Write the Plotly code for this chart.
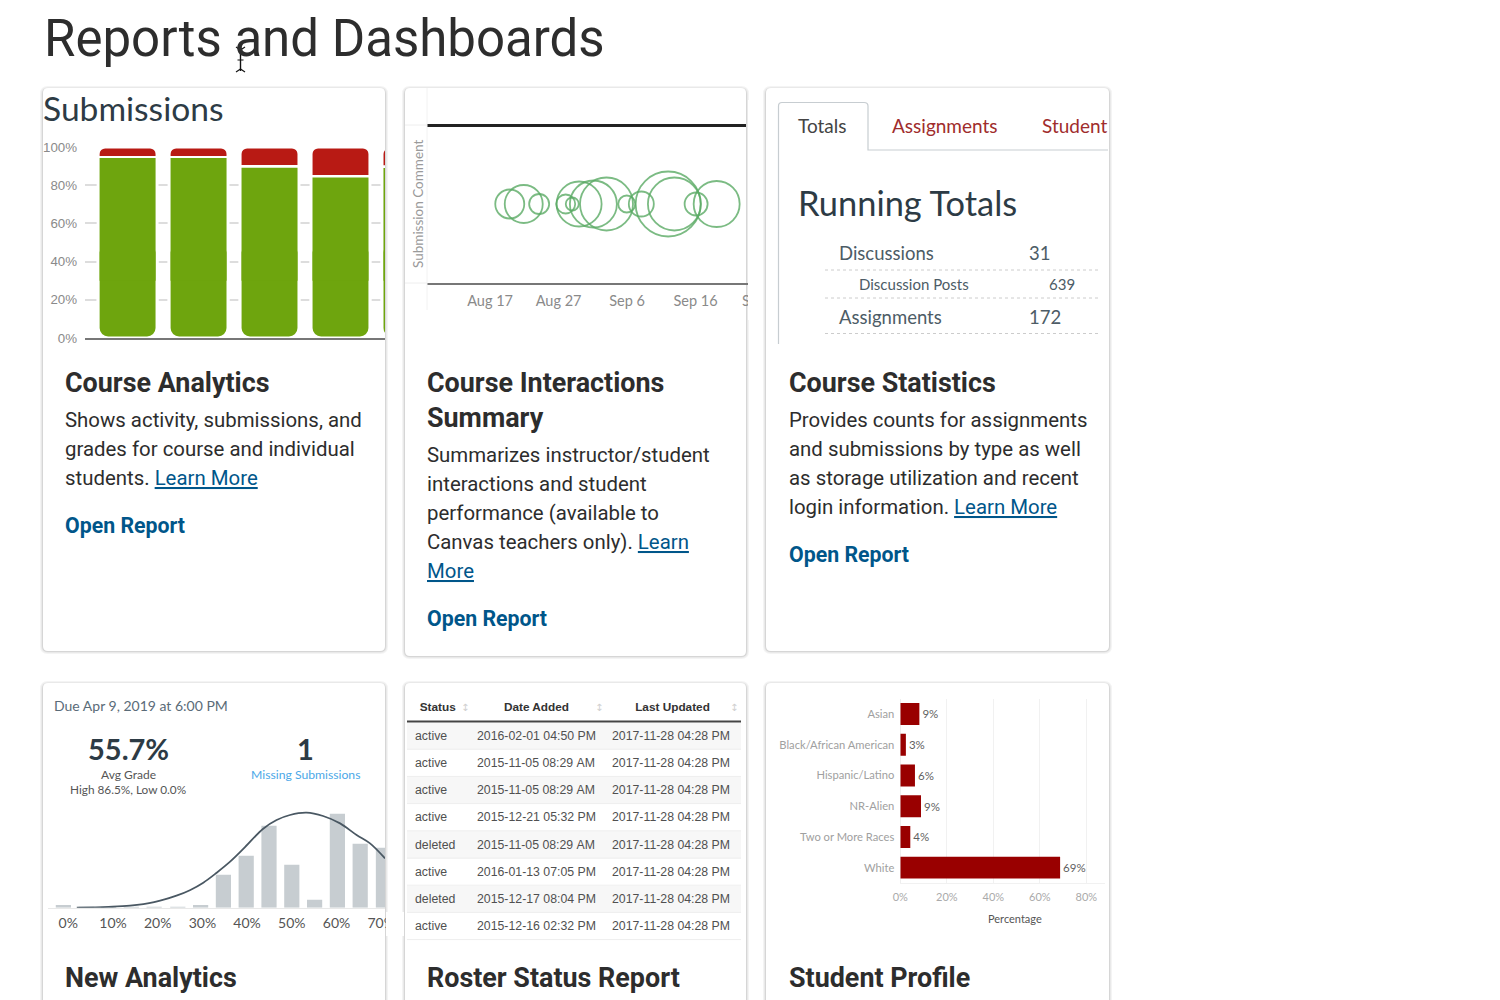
import plotly.graph_objects as go

# page is placed 8px in by the default body margin
W, H, OFF = 1492, 992, 8

HEAD_FONT = 'Roboto'
THUMB_FONT = 'Lato'
INK = '#2d2d2d'
LINK = '#00568a'
SLATE = '#2d3b45'

#%% data
sub_pos = [0, 1, 2, 3, 4]
sub_green_top = [94.2, 94.2, 89.2, 84, 89]
sub_red_start = [95.3, 95.3, 90.6, 85.3, 90.4]
sub_red_top = [100, 100, 100, 100, 100]
sub_ticks = [0, 20, 40, 60, 80, 100]

comment_dates = ['2018-08-19 21:00', '2018-08-21 22:00', '2018-08-24 04:00', '2018-08-28 01:00',
                 '2018-08-29 00:00', '2018-08-30 00:00', '2018-09-01 02:00', '2018-09-03 00:00',
                 '2018-09-05 23:00', '2018-09-08 02:00', '2018-09-12 00:00', '2018-09-12 22:00',
                 '2018-09-16 02:00', '2018-09-19 02:00']
comment_level = [0] * 14
comment_size = [29, 38, 20, 19, 13, 45, 47, 53, 17, 25, 65, 53, 23, 46]
comment_ticks = ['2018-08-17', '2018-08-27', '2018-09-06', '2018-09-16', '2018-09-26']
comment_ticktext = ['Aug 17', 'Aug 27', 'Sep 6', 'Sep 16', 'Sep 26']

hist_bins = [-1.1, 4, 9, 14.1, 19.2, 24.5, 29.6, 34.7, 39.8, 44.9, 50, 55.1, 60.2, 65.3, 70.5]
hist_vals = [2.7, 0.5, 0.3, 0.3, 0.7, 0.7, 2.7, 33, 52, 82, 43, 8, 94, 64, 60]
curve_x = [1.9, 9, 13.8, 19.2, 24.2, 27.2, 30.2, 33.2, 36.2, 39.2, 43.6, 46.6, 49.6, 53.3, 57, 60.8, 64.5, 67.5, 70.85]
curve_y = [0, 0.8, 2, 5.5, 12, 17.5, 25, 35, 46, 59, 79, 87.7, 92.7, 95, 91.7, 84.3, 72.7, 64.3, 49.3]
hist_ticks = [0, 10, 20, 30, 40, 50, 60, 70]

roster_status = ['active', 'active', 'active', 'active', 'deleted', 'active', 'deleted', 'active']
roster_added = ['2016-02-01 04:50 PM', '2015-11-05 08:29 AM', '2015-11-05 08:29 AM', '2015-12-21 05:32 PM',
                '2015-11-05 08:29 AM', '2016-01-13 07:05 PM', '2015-12-17 08:04 PM', '2015-12-16 02:32 PM']
roster_updated = ['2017-11-28 04:28 PM'] * 8

profile_groups = ['Asian', 'Black/African American', 'Hispanic/Latino', 'NR-Alien', 'Two or More Races', 'White']
profile_vals = [8.2, 2.4, 6.3, 8.9, 4.3, 68.7]
profile_text = ['9%', '3%', '6%', '9%', '4%', '69%']
profile_ticks = [0, 20, 40, 60, 80]

totals_rows = [('Discussions', '31', 839, 1029, 253, 18.5),
               ('Discussion Posts', '639', 859, 1049, 284, 15),
               ('Assignments', '172', 839, 1029, 317, 18.5)]

cards = [(43, 88, 385, 651), (405, 88, 746, 656), (766, 88, 1109, 651),
         (43, 683, 385, 1040), (405, 683, 746, 1040), (766, 683, 1109, 1040)]


#%% helpers
def px(x):
    return (x - OFF) / W


def py(y):
    return 1 - (y - OFF) / H


def dom_x(a, b):
    return [px(a), px(b)]


def dom_y(top, bottom):
    return [py(bottom), py(top)]


def round_rect(x0, y0, x1, y1, r):
    a, b, c, d = px(x0), py(y0), px(x1), py(y1)
    rx, ry = r / W, r / H
    return (f'M {a + rx} {b} L {c - rx} {b} Q {c} {b} {c} {b - ry} L {c} {d + ry} Q {c} {d} {c - rx} {d} '
            f'L {a + rx} {d} Q {a} {d} {a} {d + ry} L {a} {b - ry} Q {a} {b} {a + rx} {b} Z')


def no_wrap(values):
    # table cells break at plain spaces
    return [v.replace(' ', '\u00a0') for v in values]


fig = go.Figure()


def text(s, x, y, size, color=INK, family=HEAD_FONT, anchor='left', angle=0):
    fig.add_annotation(xref='paper', yref='paper', x=px(x), y=py(y), text=s, showarrow=False,
                       xanchor=anchor, yanchor='middle', textangle=angle, borderpad=0, borderwidth=0,
                       font=dict(family=family, size=size, color=color))


def seg(x0, y0, x1, y1, color, width=1, dash='solid', layer='above'):
    fig.add_shape(type='line', xref='paper', yref='paper', x0=px(x0), y0=py(y0), x1=px(x1), y1=py(y1),
                  line=dict(color=color, width=width, dash=dash), layer=layer)


def box(x0, y0, x1, y1, color, layer='above'):
    fig.add_shape(type='rect', xref='paper', yref='paper', x0=px(x0), y0=py(y0), x1=px(x1), y1=py(y1),
                  fillcolor=color, line_width=0, layer=layer)


def card(c, layer='below'):
    x0, y0, x1, y1 = c
    for grow, col in ((3, '#f4f4f4'), (2, '#e9e9e9'), (1, '#d6d6d6')):
        fig.add_shape(type='path', xref='paper', yref='paper', path=round_rect(x0 - grow, y0 - grow + 1, x1 + grow, y1 + grow, 5 + grow),
                      fillcolor=col, line_width=0, layer=layer)
    fig.add_shape(type='path', xref='paper', yref='paper', path=round_rect(x0, y0, x1, y1, 5),
                  fillcolor='white', line_width=0, layer=layer)


for i in (0, 1, 3, 4, 5):
    card(cards[i])

#%% submissions bars
# plotly only rounds one end of a bar without a base, so the red/green stack is layered
fig.add_trace(go.Bar(x=sub_pos, y=sub_red_top, width=0.83, xaxis='x', yaxis='y',
                     marker=dict(color='#b81a14', cornerradius=7, line=dict(color='white', width=3))))
fig.add_trace(go.Bar(x=sub_pos, y=sub_red_start, width=0.83, xaxis='x', yaxis='y',
                     marker=dict(color='white', line_width=0)))
fig.add_trace(go.Bar(x=sub_pos, y=[50] * 5, base=[0] * 5, width=0.83, xaxis='x', yaxis='y',
                     marker=dict(color='#6ea50e', cornerradius=10, line=dict(color='white', width=3))))
fig.add_trace(go.Bar(x=sub_pos, y=[v - 30 for v in sub_green_top], base=[30] * 5, width=0.789, xaxis='x', yaxis='y',
                     marker=dict(color='#6ea50e', line_width=0)))

#%% submission comment bubbles
fig.add_trace(go.Scatter(x=comment_dates, y=comment_level, mode='markers', xaxis='x2', yaxis='y2',
                         marker=dict(size=comment_size, color='rgba(0,0,0,0)', opacity=1,
                                     line=dict(color='rgba(90,170,100,0.8)', width=1.8))))

#%% grade histogram
fig.add_trace(go.Bar(x=hist_bins, y=hist_vals, width=3.4, marker=dict(color='#c7cdd1', line_width=0), xaxis='x3', yaxis='y3'))
fig.add_trace(go.Scatter(x=curve_x, y=curve_y, mode='lines', line=dict(color='#4a5863', width=1.8, shape='spline'),
                         xaxis='x3', yaxis='y3'))

#%% student profile
fig.add_trace(go.Bar(x=profile_vals, y=profile_groups, orientation='h', width=0.715, text=profile_text,
                     textposition='outside', cliponaxis=False, textfont=dict(family=THUMB_FONT, size=11.5, color='#5f5f5f'),
                     marker=dict(color='#990000', line_width=0), xaxis='x4', yaxis='y4'))

#%% roster table
row_fill = ['#f7f7f7', 'white', '#f7f7f7', 'white', '#f7f7f7', 'white', '#f7f7f7', 'white']
fig.add_trace(go.Table(domain=dict(x=dom_x(407, 741), y=dom_y(692, 941)), columnwidth=[62, 135, 137],
                       header=dict(values=['<b>Status</b>', '<b>Date Added</b>', '<b>Last Updated</b>'], height=30.5,
                                   fill_color='white', line_width=0, align='center',
                                   font=dict(family='Liberation Sans', size=11.8, color='#333333')),
                       cells=dict(values=[roster_status, no_wrap(roster_added), no_wrap(roster_updated)], height=27.2,
                                  fill=dict(color=[row_fill] * 3), line_width=0, align='left',
                                  font=dict(family='Liberation Sans', size=12.3, color='#505050'))))

#%% axes
fig.update_layout(
    template='none',
    width=W, height=H, margin=dict(l=0, r=0, t=0, b=0, pad=0), autosize=False, showlegend=False,
    paper_bgcolor='white', plot_bgcolor='rgba(0,0,0,0)', barmode='overlay',
    xaxis=dict(domain=dom_x(85, 385), range=[-0.6, 3.627], showticklabels=False, showgrid=False, zeroline=False,
               showline=True, linecolor='#777777', linewidth=2, ticks=''),
    yaxis=dict(domain=dom_y(147, 338), range=[0, 100], tickvals=sub_ticks, ticktext=[f'{v}%' for v in sub_ticks],
               ticklabelstandoff=7, tickfont=dict(family='Liberation Sans', size=13.3, color='#8a8a8a'), ticks='',
               showgrid=True, gridcolor='#dddddd', gridwidth=1.5, zeroline=False, showline=False),
    xaxis2=dict(type='date', domain=dom_x(427, 790), range=['2018-08-07 19:00', '2018-09-29 19:00'],
                tickvals=comment_ticks, ticktext=comment_ticktext, showgrid=False, zeroline=False, ticks='',
                showline=True, linecolor='#777777', linewidth=2, anchor='y2', ticklabelstandoff=4,
                tickfont=dict(family=THUMB_FONT, size=14.5, color='#8a8a8a')),
    yaxis2=dict(domain=dom_y(125, 283), range=[-1, 1], visible=False, anchor='x2'),
    xaxis3=dict(domain=dom_x(48, 385), range=[-4.54, 70.85], tickvals=hist_ticks, ticktext=[f'{v}%' for v in hist_ticks],
                showgrid=False, zeroline=False, showline=True, linecolor='#e8e8e8', linewidth=1, anchor='y3', ticks='',
                ticklabelstandoff=2, tickfont=dict(family=THUMB_FONT, size=14, color='#555555')),
    yaxis3=dict(domain=dom_y(807.7, 907.7), range=[0, 100], visible=False, anchor='x3'),
    xaxis4=dict(domain=dom_x(900.3, 1105), range=[0, 88], tickvals=profile_ticks, ticktext=[f'{v}%' for v in profile_ticks],
                showgrid=True, gridcolor='#f1f1f1', zeroline=True, zerolinecolor='#eeeeee', showline=True, linecolor='#f1f1f1',
                anchor='y4', ticklabelstandoff=4, ticks='', tickfont=dict(family=THUMB_FONT, size=11, color='#aaaaaa')),
    yaxis4=dict(domain=dom_y(698.6, 883), autorange='reversed', anchor='x4', showgrid=False, showline=False, zeroline=False,
                ticklabelstandoff=5, ticks='', tickfont=dict(family=THUMB_FONT, size=11.2, color='#a0a0a0')),
)

#%% card thumbnails: lines and clipping
seg(427, 125.5, 746, 125.5, '#222222', 3)
seg(427, 88, 427, 310, '#f2f2f2')
seg(405, 125, 427, 125, '#eeeeee')
seg(405, 283, 427, 283, '#eeeeee')

# table rules
seg(407, 721.5, 741, 721.5, '#444444', 2)
for r in range(1, 9):
    seg(407, 722 + r * 27.2, 741, 722 + r * 27.2, '#eeeeee', 1)

# hide what runs past the card edges
box(748, 100, 765, 320, 'white')
box(386, 912, 404, 936, 'white')
card(cards[2], layer='above')

# tab strip of the statistics card
fig.add_shape(type='path', xref='paper', yref='paper', layer='above', line=dict(color='#c7cdd1', width=1.2),
              path=f'M {px(778.5)} {py(344)} L {px(778.5)} {py(106)} Q {px(778.5)} {py(102.5)} {px(782)} {py(102.5)} '
                   f'L {px(864)} {py(102.5)} Q {px(868)} {py(102.5)} {px(868)} {py(106)} L {px(868)} {py(150)} L {px(1108)} {py(150)}')
for yy in (270, 298, 333.5):
    seg(825, yy, 1098, yy, '#cccccc', 1, dash='dot')

# mouse cursor over the title
seg(240.5, 48, 240.5, 71, '#111111', 1.4)
seg(236, 47, 240.5, 50, '#111111', 1.2)
seg(245, 47, 240.5, 50, '#111111', 1.2)
seg(236, 72, 240.5, 69, '#111111', 1.2)
seg(245, 72, 240.5, 69, '#111111', 1.2)
seg(237.5, 60, 243.5, 60, '#111111', 1)

#%% texts
text('Reports and Dashboards', 44, 38, 51, '#2d2d2d')

text('Submissions', 43, 108, 33.6, SLATE, THUMB_FONT)
text('Submission Comment', 418, 204, 13.5, '#9a9a9a', THUMB_FONT, 'center', -90)

text('Totals', 798, 126, 19, '#444444', THUMB_FONT)
text('Assignments', 892, 126, 19, '#a02c2c', THUMB_FONT)
text('Student', 1042, 126, 19, '#a02c2c', THUMB_FONT)
text('Running Totals', 798, 203, 34.4, SLATE, THUMB_FONT)
for name, val, xa, xb, yy, sz in totals_rows:
    text(name, xa, yy, sz, '#4d5c66', THUMB_FONT)
    text(val, xb, yy, sz, '#4d5c66', THUMB_FONT)

text('Due Apr 9, 2019 at 6:00 PM', 54, 705, 14, '#5a6b78', THUMB_FONT)
text('<b>55.7%</b>', 128, 748, 29, SLATE, THUMB_FONT, 'center')
text('Avg Grade', 128, 774, 12, '#555555', THUMB_FONT, 'center')
text('High 86.5%, Low 0.0%', 128, 789, 11.8, '#555555', THUMB_FONT, 'center')
text('<b>1</b>', 305, 748, 29, SLATE, THUMB_FONT, 'center')
text('Missing Submissions', 305, 774, 12.2, '#4ba8e8', THUMB_FONT, 'center')

for sort_x in (465, 599, 734):
    text('↕', sort_x, 707, 10, '#d0d0d0', 'DejaVu Sans', 'center')
text('Percentage', 1015, 918, 11, '#555555', THUMB_FONT, 'center')

U = '<span style="text-decoration:underline">{}</span>'
BODY = 20.4
HEAD = 26.9
OPEN = 21.3

text('<b>Course Analytics</b>', 65, 383, HEAD)
text('Shows activity, submissions, and', 65, 420, BODY)
text('grades for course and individual', 65, 449, BODY)
text('students. <span style="color:#00568a">' + U.format('Learn More') + '</span>', 65, 478, BODY)
text('<b>Open Report</b>', 65, 525, OPEN, LINK)

text('<b>Course Interactions</b>', 427, 383, HEAD)
text('<b>Summary</b>', 427, 418, HEAD)
text('Summarizes instructor/student', 427, 455, BODY)
text('interactions and student', 427, 484, BODY)
text('performance (available to', 427, 513, BODY)
text('Canvas teachers only). <span style="color:#00568a">' + U.format('Learn') + '</span>', 427, 542, BODY)
text(U.format('More'), 427, 571, BODY, LINK)
text('<b>Open Report</b>', 427, 618, OPEN, LINK)

text('<b>Course Statistics</b>', 789, 383, HEAD)
text('Provides counts for assignments', 789, 420, BODY)
text('and submissions by type as well', 789, 449, BODY)
text('as storage utilization and recent', 789, 478, BODY)
text('login information. <span style="color:#00568a">' + U.format('Learn More') + '</span>', 789, 507, BODY)
text('<b>Open Report</b>', 789, 554, OPEN, LINK)

text('<b>New Analytics</b>', 65, 978, HEAD)
text('<b>Roster Status Report</b>', 427, 978, HEAD)
text('<b>Student Profile</b>', 789, 978, HEAD)

fig.write_html("out.html")
